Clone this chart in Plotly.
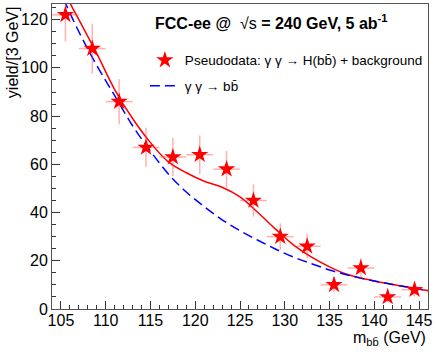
import plotly.graph_objects as go

# pseudodata (3 GeV bins)
mass = [105.5, 108.5, 111.5, 114.5, 117.5, 120.5, 123.5, 126.5, 129.5, 132.5, 135.5, 138.5, 141.5, 144.5]
yields = [122, 108, 86, 67, 63, 64, 58, 45, 30, 26, 10, 17, 5, 8]
yield_err = [11.0, 10.4, 9.3, 8.2, 7.9, 8.0, 7.6, 6.7, 5.5, 5.1, 3.2, 4.1, 2.2, 2.8]
bin_half = [1.5] * len(mass)

# fitted curves
curve_x = [104, 105, 107, 109, 111, 113, 115, 117, 119, 121, 123, 125, 127, 129, 131, 133, 135, 137, 139, 141, 143, 146]
fit_y = [142, 134, 120, 106, 91, 79, 69, 61, 56.5, 53, 50.5, 46.5, 40, 33, 26.5, 21.5, 17.5, 14.3, 12.4, 10.9, 9.5, 7.6]
bkg_y = [140, 131, 115, 101, 88.5, 76, 65.5, 56, 48.5, 42.5, 37, 32.5, 28.5, 24.8, 21.5, 18.8, 16.2, 14.1, 12.4, 10.9, 9.5, 7.6]

FONT = "Liberation Sans, Arial, Helvetica, sans-serif"
bb = "b" + "b\u0304"

fig = go.Figure()

fig.add_trace(go.Scatter(
    x=curve_x, y=fit_y, mode="lines", line=dict(color="#ff0000", width=1.5, shape="spline"),
    showlegend=False, hoverinfo="skip"))

fig.add_trace(go.Scatter(
    x=curve_x, y=bkg_y, mode="lines", legendgroup="b", legendrank=2,
    line=dict(color="#0000ff", width=1.5, dash="10px,5px", shape="spline"),
    name=f"\u03b3 \u03b3 \u2192 {bb}"))

fig.add_trace(go.Scatter(
    x=mass, y=yields, mode="markers", legendgroup="a", legendrank=1,
    marker=dict(symbol="star", size=13, color="#ff0000", line=dict(width=0)),
    error_y=dict(type="data", array=yield_err, color="rgba(255,60,60,0.4)", thickness=1.5, width=0),
    error_x=dict(type="data", array=bin_half, color="rgba(255,60,60,0.4)", thickness=1.5, width=0),
    name=f"Pseudodata: \u03b3 \u03b3 \u2192 H({bb}) + background"))

fig.update_layout(
    width=436, height=352,
    margin=dict(l=52, r=8, t=4, b=43),
    paper_bgcolor="white", plot_bgcolor="white",
    font=dict(family=FONT, size=16, color="black"),
    legend=dict(x=0.247, y=0.866, xanchor="left", yanchor="top",
                font=dict(size=13.5), bgcolor="rgba(0,0,0,0)",
                traceorder="grouped", tracegroupgap=5, itemwidth=30),
    annotations=[
        dict(text="<b>FCC-ee @ </b> \u221as<b> = 240 GeV, 5 ab<sup>-1</sup></b>",
             xref="paper", yref="paper", x=0.2686, y=0.941, xanchor="left", yanchor="middle",
             showarrow=False, font=dict(size=16)),
        dict(text="m<sub>" + bb + "</sub> (GeV)", xref="paper", yref="paper",
             x=1, y=-0.098, xanchor="right", yanchor="middle", showarrow=False, font=dict(size=16)),
        dict(text="yield/[3 GeV]", xref="paper", yref="paper", textangle=-90,
             x=-0.106, y=1, xanchor="center", yanchor="top", showarrow=False, font=dict(size=16)),
    ],
)

fig.update_xaxes(
    range=[104, 146], tickmode="linear", tick0=105, dtick=5,
    ticks="inside", ticklen=8, tickcolor="#333", showgrid=False, zeroline=False,
    showline=True, linecolor="#555", linewidth=1, mirror=True,
    minor=dict(dtick=1, tick0=104, ticks="inside", ticklen=4, tickcolor="#333", showgrid=False),
    tickfont=dict(size=16), ticklabelstandoff=-3)

fig.update_yaxes(
    range=[0, 126.5], tickmode="linear", tick0=0, dtick=20,
    ticks="inside", ticklen=8, tickcolor="#333", showgrid=False, zeroline=False,
    showline=True, linecolor="#555", linewidth=1, mirror=True,
    minor=dict(dtick=5, ticks="inside", ticklen=4, tickcolor="#333", showgrid=False),
    tickfont=dict(size=16))

# the page body has a default 8px margin; drop it so the figure fills the window
fig.write_html("out.html", config={"displayModeBar": False},
               post_script="document.body.style.margin='0';")
